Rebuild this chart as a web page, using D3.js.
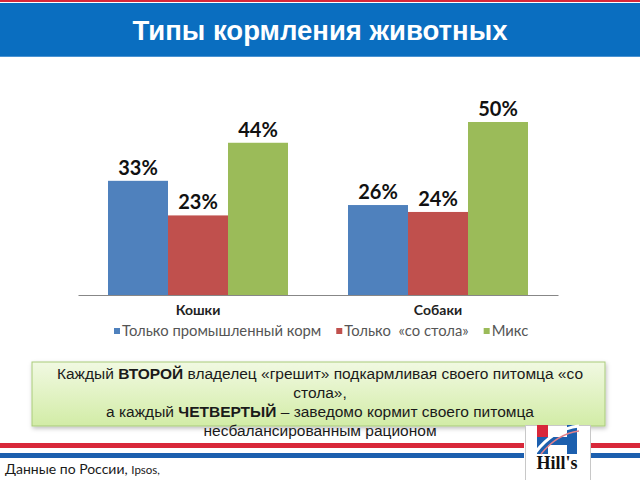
<!DOCTYPE html>
<html lang="ru">
<head>
<meta charset="UTF-8">
<title>Типы кормления животных</title>
<script src="https://cdnjs.cloudflare.com/ajax/libs/d3/7.9.0/d3.min.js"></script>
<style>
    html, body { margin: 0; padding: 0; background: #fff; }
    svg { display: block; }
</style>
</head>
<body>
<div id="chart"></div>
<script>
// data
const categories = ['Кошки', 'Собаки'];
const seriesNames = ['Только промышленный корм', 'Только  «со стола»', 'Микс'];
const industrialOnly = [33, 26];
const tableOnly = [23, 24];
const mixed = [44, 50];
const seriesColors = ['#4f81bd', '#c0504d', '#9bbb59'];

const titleText = 'Типы кормления животных';
const noteLines = [
    [['Каждый ', false], ['ВТОРОЙ', true], [' владелец «грешит» подкармливая своего питомца «со', false]],
    [['стола»,', false]],
    [['а каждый ', false], ['ЧЕТВЕРТЫЙ', true], [' – заведомо кормит своего питомца', false]],
    [['несбалансированным рационом', false]]
];

const W = 640, H = 480;
const svg = d3.select('#chart').append('svg')
    .attr('width', W)
    .attr('height', H);

const defs = svg.append('defs');
const grad = defs.append('linearGradient')
    .attr('id', 'noteFill')
    .attr('x1', 0).attr('y1', 0).attr('x2', 0).attr('y2', 1);
grad.append('stop').attr('offset', '0%').attr('stop-color', '#f1f9e2');
grad.append('stop').attr('offset', '100%').attr('stop-color', '#d2eca6');
const shadow = defs.append('filter').attr('id', 'shadow')
    .attr('x', '-5%').attr('y', '-20%').attr('width', '115%').attr('height', '150%');
shadow.append('feDropShadow')
    .attr('dx', 1).attr('dy', 2).attr('stdDeviation', 2)
    .attr('flood-color', '#000').attr('flood-opacity', 0.25);

// header
svg.append('rect').attr('x', 0).attr('y', 0).attr('width', W).attr('height', 2).attr('fill', '#d8283a');
svg.append('rect').attr('x', 0).attr('y', 3).attr('width', W).attr('height', 54).attr('fill', '#0a6ec0');
svg.append('rect').attr('x', 0).attr('y', 56).attr('width', W).attr('height', 1).attr('fill', '#4a93d2');
svg.append('text')
    .attr('x', W / 2).attr('y', 40)
    .attr('text-anchor', 'middle')
    .attr('font-family', '"Liberation Sans", Arial, sans-serif')
    .attr('font-weight', 'bold')
    .attr('font-size', 27.5)
    .attr('fill', '#fff')
    .text(titleText);

// chart
const data = categories.map((c, i) => ({
    category: c,
    values: [industrialOnly[i], tableOnly[i], mixed[i]]
}));

const x0 = d3.scaleBand()
    .domain(categories)
    .range([78, 558])
    .padding(0);

const x1 = d3.scaleBand()
    .domain(d3.range(seriesNames.length))
    .range([0, x0.bandwidth()])
    .paddingInner(0)
    .paddingOuter(0.5);

const y = d3.scaleLinear()
    .domain([0, 50])
    .range([295, 122]);

const groups = svg.append('g')
    .selectAll('g')
    .data(data)
    .enter().append('g')
    .attr('transform', d => `translate(${x0(d.category)},0)`);

groups.selectAll('rect')
    .data(d => d.values)
    .enter().append('rect')
    .attr('x', (d, i) => x1(i))
    .attr('y', d => y(d))
    .attr('width', x1.bandwidth())
    .attr('height', d => y(0) - y(d))
    .attr('fill', (d, i) => seriesColors[i]);

groups.selectAll('text')
    .data(d => d.values)
    .enter().append('text')
    .attr('x', (d, i) => x1(i) + x1.bandwidth() / 2)
    .attr('y', d => y(d) - 6)
    .attr('text-anchor', 'middle')
    .attr('font-family', 'Lato, "Open Sans", sans-serif')
    .attr('font-weight', 'bold')
    .attr('font-size', 20)
    .attr('fill', '#111')
    .text(d => d + '%');

const xAxis = svg.append('g')
    .attr('transform', `translate(0,${y(0)})`)
    .call(d3.axisBottom(x0).tickSize(0).tickPadding(10));
xAxis.select('.domain').attr('stroke', '#878787');
xAxis.selectAll('text')
    .attr('font-family', 'Lato, "Open Sans", sans-serif')
    .attr('font-weight', 'bold')
    .attr('font-size', 14)
    .attr('fill', '#222');

// legend
const legend = svg.append('g').attr('transform', 'translate(114,331)');
let lx = 0;
seriesNames.forEach((name, i) => {
    const item = legend.append('g').attr('transform', `translate(${lx},0)`);
    item.append('rect')
        .attr('x', 0).attr('y', -3)
        .attr('width', 6).attr('height', 6)
        .attr('fill', seriesColors[i]);
    const t = item.append('text')
        .attr('x', 8).attr('y', 5)
        .attr('font-family', 'Lato, "Open Sans", sans-serif')
        .attr('font-size', 14.8)
        .attr('fill', '#555')
        .style('white-space', 'pre')
        .text(name);
    lx += 8 + t.node().getComputedTextLength() + 15;
});

// note box
svg.append('rect')
    .attr('x', 32).attr('y', 362)
    .attr('width', 573).attr('height', 64)
    .attr('fill', 'url(#noteFill)')
    .attr('stroke', '#a9cb7a')
    .attr('stroke-width', 1)
    .attr('filter', 'url(#shadow)');

const note = svg.append('text')
    .attr('text-anchor', 'middle')
    .attr('font-family', '"Liberation Sans", Arial, sans-serif')
    .attr('font-size', 15.5)
    .attr('fill', '#1a1a1a');
noteLines.forEach((parts, li) => {
    const line = note.append('tspan')
        .attr('x', 320)
        .attr('y', 379 + li * 19);
    parts.forEach(([txt, bold]) => {
        line.append('tspan')
            .attr('font-weight', bold ? 'bold' : 'normal')
            .text(txt);
    });
});

// footer stripes
[[0, 524], [591, W]].forEach(([a, b]) => {
    svg.append('rect').attr('x', a).attr('y', 443).attr('width', b - a).attr('height', 5).attr('fill', '#d8283a');
    svg.append('rect').attr('x', a).attr('y', 453).attr('width', b - a).attr('height', 5).attr('fill', '#1c5fae');
});

const foot = svg.append('text')
    .attr('x', 5).attr('y', 474)
    .attr('font-family', 'Lato, "Open Sans", sans-serif')
    .attr('font-size', 14)
    .attr('fill', '#1a1a1a');
foot.append('tspan').text('Данные по России, ');
foot.append('tspan').attr('font-size', 11.5).text('Ipsos,');

// logo
const logo = svg.append('g').attr('transform', 'translate(525,425)');
logo.append('rect')
    .attr('x', 0.5).attr('y', 0.5)
    .attr('width', 65).attr('height', 60)
    .attr('fill', '#fff')
    .attr('stroke', '#c8c8c8');
logo.append('rect').attr('x', 12).attr('y', 0).attr('width', 11).attr('height', 12).attr('fill', '#d8283a');
logo.append('rect').attr('x', 12).attr('y', 12).attr('width', 11).attr('height', 17).attr('fill', '#1c5fae');
logo.append('rect').attr('x', 42).attr('y', 0).attr('width', 10).attr('height', 29).attr('fill', '#1c5fae');
logo.append('rect').attr('x', 23).attr('y', 12).attr('width', 19).attr('height', 8).attr('fill', '#1c5fae');
logo.append('path')
    .attr('d', 'M10,28 Q28,4 54,1')
    .attr('fill', 'none').attr('stroke', '#fff').attr('stroke-width', 3);
logo.append('path')
    .attr('d', 'M16,29 Q32,9 54,6')
    .attr('fill', 'none').attr('stroke', '#e2808a').attr('stroke-width', 1.5);
logo.append('text')
    .attr('x', 32).attr('y', 44)
    .attr('text-anchor', 'middle')
    .attr('font-family', '"Liberation Serif", "DejaVu Serif", serif')
    .attr('font-weight', 'bold')
    .attr('font-size', 18)
    .attr('fill', '#111')
    .text("Hill's");
</script>
</body>
</html>
